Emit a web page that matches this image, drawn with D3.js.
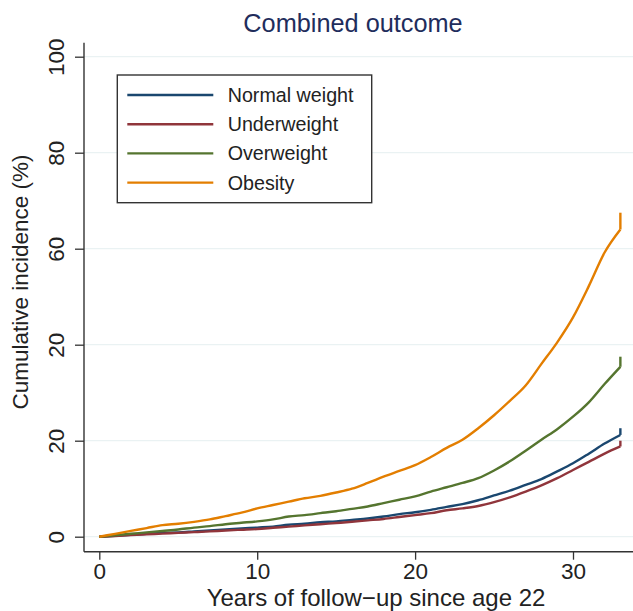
<!DOCTYPE html>
<html><head><meta charset="utf-8">
<script src="https://cdn.jsdelivr.net/npm/d3@7"></script>
<style>
html,body{margin:0;padding:0;background:#fff;}
svg text{font-family:"Liberation Sans",Arial,Helvetica,sans-serif;}
</style></head>
<body>
<svg id="c" width="633" height="611"></svg>
<script>
const title = "Combined outcome";
const xTitle = "Years of follow\u2212up since age 22";
const yTitle = "Cumulative incidence (%)";
const xTickValues = [0, 10, 20, 30];
const yTickValues = [0, 20, 40, 60, 80, 100];
const yTickLabels = ["0", "20", "20", "60", "80", "100"];
const seriesNames = ["Normal weight", "Underweight", "Overweight", "Obesity"];
const seriesColors = ["#1a476f", "#90353b", "#55752f", "#e37e00"];
const years = [0,1,2,3,4,5,6,7,8,9,10,11,12,13,14,15,16,17,18,19,20,21,22,23,24,25,26,27,28,29,30,31,32,33];
const normalWeight = [0,0.2,0.4,0.6,0.8,0.9,1.1,1.3,1.5,1.7,1.9,2.1,2.5,2.7,3.0,3.2,3.5,3.8,4.2,4.7,5.1,5.6,6.2,6.8,7.6,8.6,9.6,10.8,12.0,13.6,15.3,17.3,19.4,21.2];
const underweight = [0,0.15,0.35,0.5,0.65,0.8,0.95,1.1,1.3,1.45,1.6,1.85,2.1,2.35,2.6,2.85,3.1,3.4,3.7,4.1,4.5,4.9,5.5,5.9,6.4,7.2,8.2,9.4,10.7,12.2,13.9,15.6,17.3,18.8];
const overweight = [0,0.3,0.6,0.9,1.2,1.5,1.9,2.2,2.6,2.9,3.2,3.6,4.2,4.5,4.9,5.3,5.8,6.3,7.0,7.7,8.4,9.4,10.3,11.2,12.2,13.8,15.7,17.9,20.2,22.4,25.0,28.0,31.8,35.4];
const obesity = [0,0.6,1.2,1.8,2.4,2.7,3.1,3.6,4.3,5.0,5.9,6.6,7.3,8.0,8.5,9.2,10.0,11.2,12.5,13.7,14.9,16.6,18.5,20.2,22.6,25.3,28.3,31.5,36.0,40.5,45.7,52.2,59.2,64.0];
// value reached by the vertical mark at the end of follow-up
const endTop = [22.6, 20.0, 37.5, 67.5];
const seriesValues = [normalWeight, underweight, overweight, obesity];

const svg = d3.select("#c");
const x = d3.scaleLinear().domain([0, 30]).range([99.3, 573]);
const y = d3.scaleLinear().domain([0, 100]).range([536.7, 56.7]);
const axisX0 = 84, axisY0 = 551.7;

// gridlines
svg.append("g").selectAll("line").data(yTickValues).join("line")
  .attr("x1", axisX0).attr("x2", 633)
  .attr("y1", d => y(d)).attr("y2", d => y(d))
  .attr("stroke", "#eaf2f3").attr("stroke-width", 1.2);

// y axis
const gy = svg.append("g").attr("transform", `translate(${axisX0},0)`)
  .call(d3.axisLeft(y).tickValues(yTickValues).tickSize(9)
    .tickFormat((d, i) => yTickLabels[i]));
gy.select(".domain").remove();
gy.selectAll(".tick line").attr("stroke", "#333").attr("stroke-width", 1.3);
gy.selectAll(".tick text")
  .attr("transform", "rotate(-90)")
  .attr("x", 0).attr("y", -20.5).attr("dy", 0)
  .attr("text-anchor", "middle")
  .attr("font-size", 22.5).attr("fill", "#222");

// x axis
const gx = svg.append("g").attr("transform", `translate(0,${axisY0})`)
  .call(d3.axisBottom(x).tickValues(xTickValues).tickSize(8)
    .tickFormat(d3.format("d")));
gx.select(".domain").remove();
gx.selectAll(".tick line").attr("stroke", "#333").attr("stroke-width", 1.3);
gx.selectAll(".tick text").attr("font-size", 22.5).attr("fill", "#222")
  .attr("y", 27.5).attr("dy", 0);

// axis lines
svg.append("line").attr("x1", axisX0).attr("x2", axisX0).attr("y1", 42.7).attr("y2", axisY0)
  .attr("stroke", "#333").attr("stroke-width", 1.4);
svg.append("line").attr("x1", axisX0).attr("x2", 633).attr("y1", axisY0).attr("y2", axisY0)
  .attr("stroke", "#333").attr("stroke-width", 1.4);

// series lines
const line = d3.line().x(d => x(d[0])).y(d => y(d[1])).curve(d3.curveMonotoneX);
seriesValues.forEach((vals, i) => {
  const pts = years.map((t, j) => [t, vals[j]]);
  svg.append("path")
    .datum(pts)
    .attr("d", line)
    .attr("fill", "none")
    .attr("stroke", seriesColors[i])
    .attr("stroke-width", 2.4)
    .attr("stroke-linejoin", "round");
  const last = pts[pts.length - 1];
  svg.append("line")
    .attr("x1", x(last[0])).attr("x2", x(last[0]))
    .attr("y1", y(last[1])).attr("y2", y(endTop[i]))
    .attr("stroke", seriesColors[i]).attr("stroke-width", 2.4);
});

// legend
const lg = svg.append("g");
lg.append("rect").attr("x", 117.3).attr("y", 75).attr("width", 254.4).attr("height", 127.7)
  .attr("fill", "#fff").attr("stroke", "#333").attr("stroke-width", 1.4);
seriesNames.forEach((name, i) => {
  const ly = 95 + i * 29.2;
  lg.append("line").attr("x1", 127.3).attr("x2", 213.3).attr("y1", ly).attr("y2", ly)
    .attr("stroke", seriesColors[i]).attr("stroke-width", 2.4);
  lg.append("text").attr("x", 227.7).attr("y", ly + 7).attr("font-size", 19.7)
    .attr("fill", "#222").text(name);
});

// titles
svg.append("text").attr("x", 353).attr("y", 32).attr("text-anchor", "middle")
  .attr("font-size", 25.3).attr("fill", "#1f2d5c").text(title);
svg.append("text").attr("x", 376).attr("y", 605.5).attr("text-anchor", "middle")
  .attr("font-size", 24).attr("fill", "#222").text(xTitle);
svg.append("text").attr("transform", "translate(28,282) rotate(-90)").attr("text-anchor", "middle")
  .attr("font-size", 22.5).attr("fill", "#222").text(yTitle);
</script>
</body></html>
